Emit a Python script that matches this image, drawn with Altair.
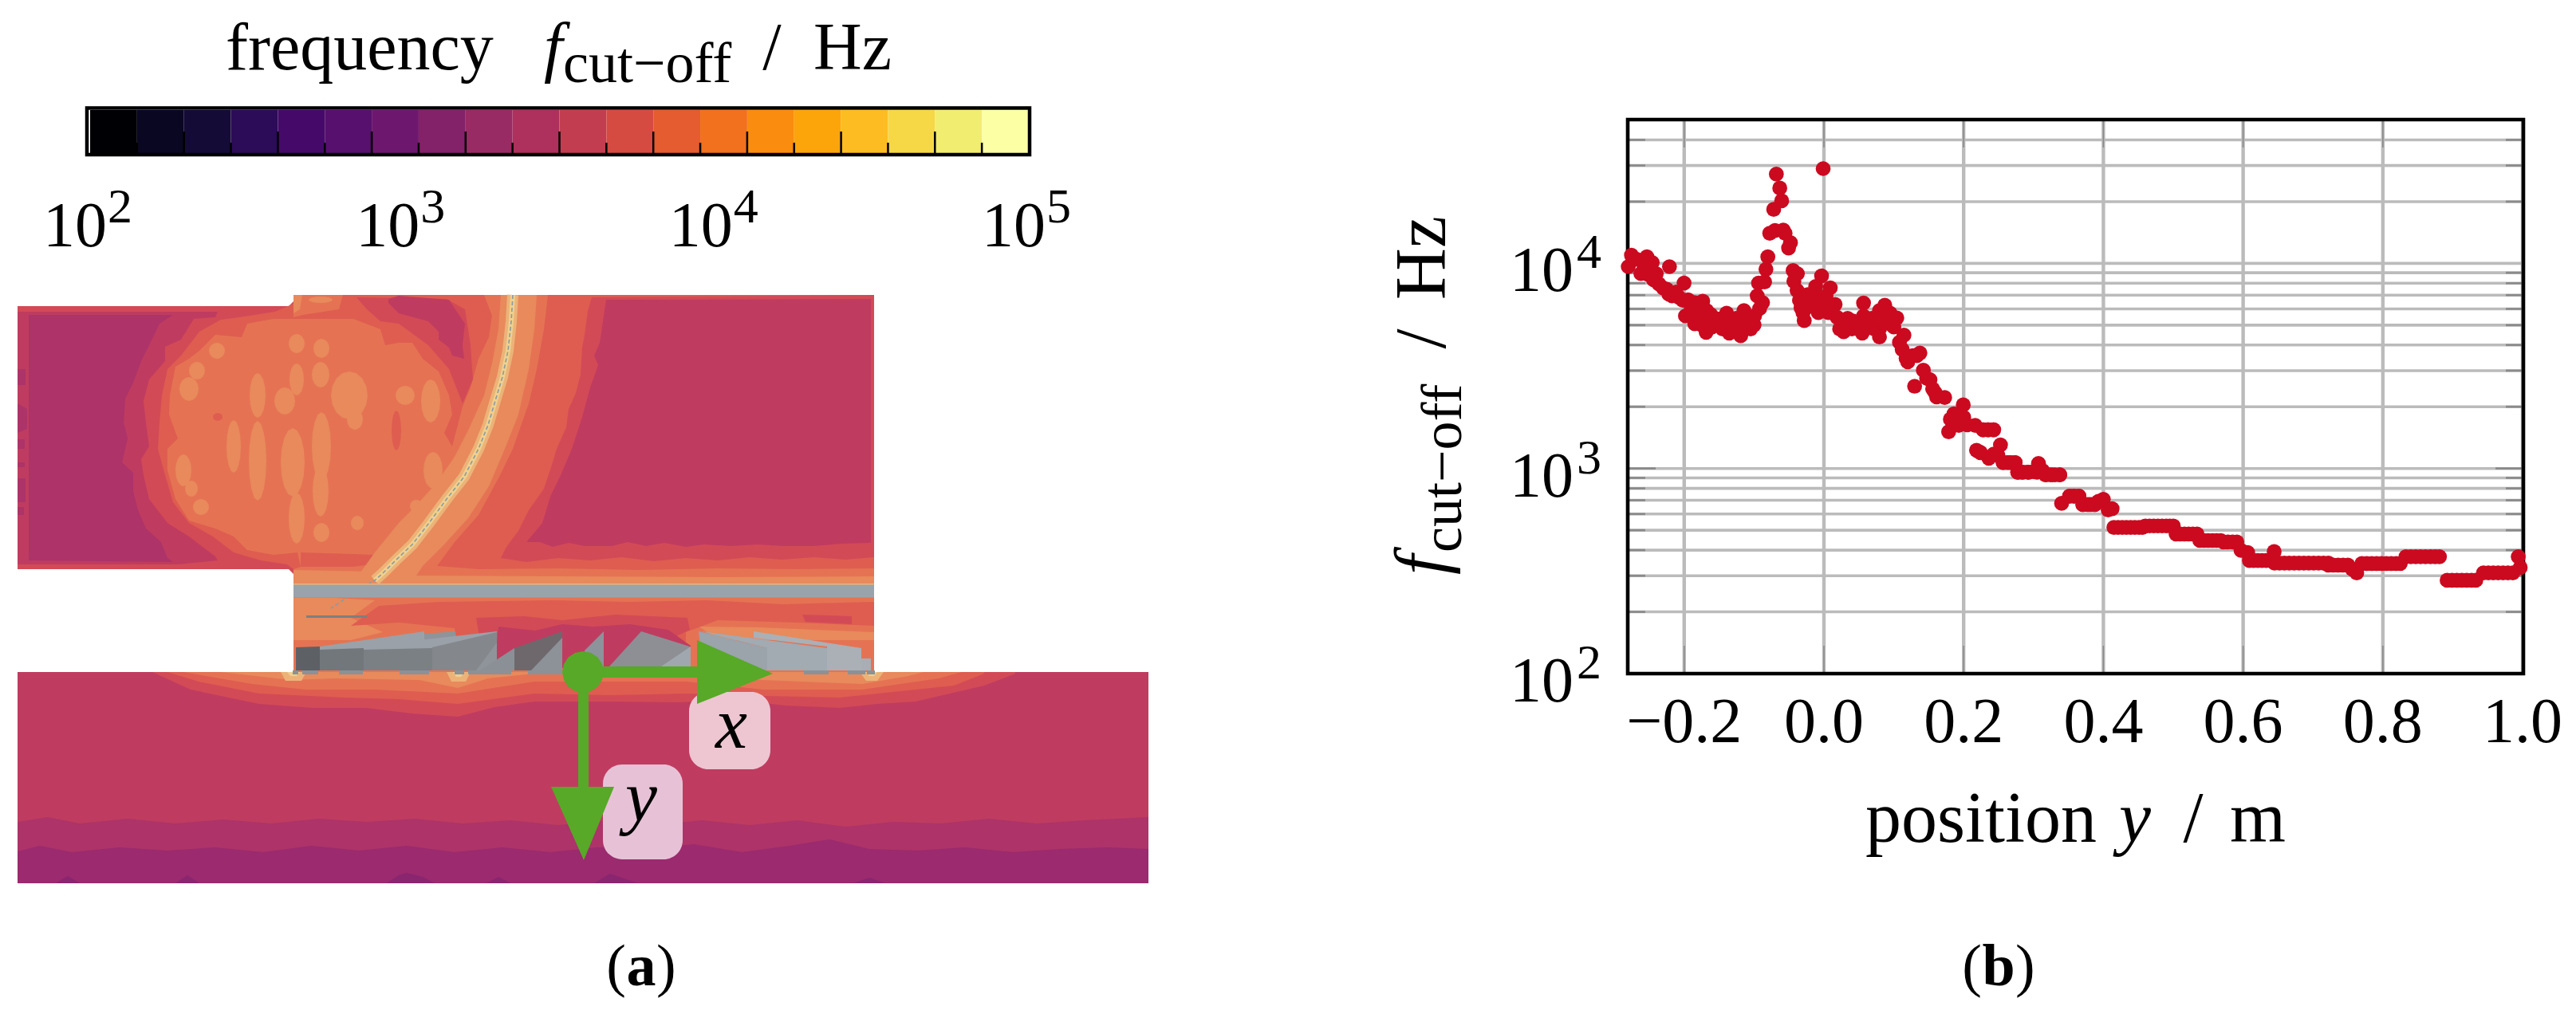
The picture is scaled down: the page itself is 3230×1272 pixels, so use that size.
import math
import altair as alt
import pandas as pd

FONT = "Liberation Serif"

# ---------- panel (b): cut-off frequency along y (position in m, log10 of Hz) ----------
scatter_left = [(-0.280,3.984),(-0.2755,4.040),(-0.2680,4.020),(-0.2534,4.032),(-0.2458,4.004),(-0.2572,3.978),(-0.2515,3.946),
 (-0.2439,3.920),(-0.2211,3.984),(-0.2363,3.900),(-0.2249,3.874),(-0.2002,3.904),(-0.2173,3.842),(-0.2078,3.835),
 (-0.1944,3.822),(-0.1849,3.809),(-0.1735,3.816),(-0.1982,3.744),(-0.1830,3.757),(-0.1849,3.706),(-0.1678,3.770),
 (-0.1678,3.732),(-0.1686,3.664),(-0.1564,3.732),(-0.1526,3.706),(-0.1393,3.757),(-0.1355,3.706),(-0.1355,3.660),
 (-0.1260,3.732),(-0.1191,3.647),(-0.1145,3.770),(-0.1069,3.725),(-0.1050,3.680),(-0.0993,3.744),(-0.0879,3.809),
 (-0.0955,3.842),(-0.0936,3.904),(-0.0849,3.910),(-0.0830,3.971),(-0.0803,4.032),(-0.0776,4.147),(-0.0582,4.162),
 (-0.0556,4.147),(-0.0479,4.101),(-0.0506,4.075),(-0.0719,4.263),(-0.0605,4.305),(-0.0632,4.367),(-0.0681,4.435),
 (-0.2620,3.950),(-0.2480,3.970),(-0.2400,3.950),(-0.2300,3.880),(-0.2220,3.850),(-0.2120,3.860),(-0.2020,3.820),(-0.1900,3.780),
 (-0.1780,3.740),(-0.1750,3.700),(-0.1620,3.750),(-0.1600,3.690),(-0.1480,3.730),(-0.1450,3.680),(-0.1300,3.690),(-0.1220,3.690),
 (-0.1120,3.720),(-0.1000,3.700),(-0.0920,3.780),(-0.0700,4.160)]
scatter_mid = [(-0.0441,3.965),(-0.0430,3.913),(-0.0384,3.868),(-0.0327,3.783),(-0.0282,3.721),(-0.0232,3.848),
 (-0.0011,4.462),(-0.0034,3.939),(0.0091,3.881),(-0.0118,3.887),(-0.0137,3.835),(-0.0042,3.803),(0.0110,3.783),
 (-0.0251,3.783),(0.0186,3.738),(0.0225,3.680),(0.0282,3.667),(0.0339,3.732),(0.0415,3.719),(0.0529,3.680),
 (0.0548,3.660),(0.0567,3.807),(0.0567,3.744),(0.0681,3.732),(0.0795,3.680),(0.0795,3.641),(0.0871,3.796),
 (0.0795,3.770),(0.0947,3.757),(0.1043,3.734),(0.0947,3.706),(0.1145,3.650),(0.1081,3.615),(0.1176,3.537),
 (0.1374,3.563),(0.1271,3.550),(0.1423,3.479),(0.1518,3.433),(0.1298,3.401),(0.1556,3.388),(0.1613,3.349),
 (0.1728,3.346),(0.1994,3.310),(0.1861,3.267),(0.1785,3.179),(0.2051,3.213),(0.2165,3.210),(0.2279,3.189),
 (0.2424,3.189),(0.2527,3.115),(0.2184,3.089),(0.2241,3.077),(0.2489,3.064),(0.2565,3.029),(0.2736,3.029),
 (0.2774,2.982),(0.2926,2.982),(0.3071,3.025),(0.3174,2.969),(0.3375,2.969),(0.3270,2.969),
 (-0.0380,3.950),(-0.0350,3.820),(-0.0300,3.760),(-0.0180,3.800),(-0.0080,3.760),(0.0030,3.840),(0.0060,3.760),(0.0160,3.800),
 (0.0280,3.710),(0.0400,3.680),(0.0480,3.700),(0.0630,3.700),(0.0720,3.680),(0.0880,3.720),(0.1000,3.690),(0.1120,3.580),
 (0.1200,3.520),(0.1330,3.550),(0.1470,3.440),(0.1590,3.370),(0.1810,3.240),(0.1850,3.210),(0.2000,3.250),(0.1930,3.210),
 (0.2230,3.080),(0.2360,3.050),(0.2430,3.070),(0.2350,3.189),(0.2650,3.029),(0.2830,2.982),(0.3000,2.985),(0.3130,2.990),(0.3050,2.982)]
scatter_right = [(0.3402,2.830),(0.3516,2.865),(0.3649,2.865),(0.3580,2.865),(0.3706,2.824),(0.3800,2.824),(0.3877,2.824),(0.3930,2.840),(0.3999,2.850),
 (0.4125,2.804),(0.4068,2.798),(0.5970,2.601),(0.6065,2.590),(0.6444,2.595),(0.9966,2.517),(0.9938,2.570),(0.7626,2.491),(0.7560,2.510)]
# plateaus of the curve: level, then the positions read along it
plateau_levels = [2.713, 2.720, 2.681, 2.649, 2.642, 2.551, 2.539, 2.529, 2.537, 2.570, 2.455, 2.491]
plateau_positions = [
 [0.415,0.421,0.427,0.433,0.439,0.445,0.451,0.456],
 [0.460,0.466,0.472,0.478,0.484,0.490,0.495,0.500],
 [0.504,0.510,0.516,0.522,0.528,0.534],
 [0.538,0.544,0.550,0.556,0.562,0.568],
 [0.572,0.578,0.585,0.591],
 [0.609,0.615,0.621,0.627,0.633,0.639],
 [0.645,0.652,0.659,0.666,0.673,0.680,0.687,0.694,0.701,0.708,0.715,0.722],
 [0.722,0.729,0.736,0.743,0.750],
 [0.770,0.777,0.784,0.791,0.798,0.805,0.812,0.819,0.825],
 [0.833,0.840,0.847,0.854,0.861,0.868,0.875,0.881],
 [0.892,0.899,0.906,0.913,0.920,0.927,0.933],
 [0.944,0.951,0.958,0.965,0.972,0.979,0.986],
]
steps_levels = [3.189, 3.029, 2.982, 2.969, 2.865, 2.824]
steps_positions = [[0.228,0.235,0.243],[0.2565,0.2620,0.2680,0.2736],[0.2774,0.2850,0.2926],[0.3174,0.3240,0.3310,0.3375],[0.3516,0.3580,0.3649],[0.3706,0.3770,0.3830,0.3877]]

scatter = scatter_left + scatter_mid + scatter_right
for lv, xs_ in zip(plateau_levels + steps_levels, plateau_positions + steps_positions):
    scatter = scatter + [(x_, lv) for x_ in xs_]

x_ticks = [-0.2, 0.0, 0.2, 0.4, 0.6, 0.8, 1.0]
x_tick_labels = ["−0.2", "0.0", "0.2", "0.4", "0.6", "0.8", "1.0"]
y_majors = [100, 1000, 10000]
y_exponents = ["2", "3", "4"]
y_minors = [200,300,400,500,600,700,800,900,2000,3000,4000,5000,6000,7000,8000,9000,20000,30000,40000]

# ---------- colour bar ----------
cbar_colors = ["#000004","#0a0722","#150b37","#2c0b58","#450a69","#57106e","#6d186e","#832169","#992b64","#ae305c",
               "#c33d50","#d64b41","#e45c30","#f1711f","#fa8c0f","#fca50a","#fcbc22","#f6d746","#f1ed71","#fcffa4"]
cbar_ticks = [100, 1000, 10000, 100000]
cbar_exponents = ["2", "3", "4", "5"]

# ---------- panel (a): filled contour levels, outlines (page pixels) ----------
L0,L1,L2,L3,L4,L5,L6,L7,L8,L9 = ("#8a2570","#9b2a6e","#ad3369","#bf3c60","#d34a57","#de5d50","#e57353","#e88a5c","#ecb378","#f0d08e")

upper_domain = [(22,381),(362,381),(368,375),(368,367),(1096,367),(1096,730),(368,730),(368,717),(362,711),(22,711)]
left_ring = [(22,388),(273,388),(270,395),(243,397),(227,423),(207,432),(207,450),(187,473),(180,500),(183,527),(187,557),
 (177,573),(180,593),(187,623),(210,653),(237,670),(270,695),(273,700),(223,705),(22,705)]
left_block = [(36,392),(217,392),(200,403),(187,430),(177,450),(167,477),(157,497),(155,527),(160,547),(153,577),(167,590),
 (167,613),(173,637),(183,660),(202,677),(210,697),(217,702),(36,700)]
left_spots = [[(22,460),(32,460),(32,480),(22,480)],[(22,503),(34,510),(34,535),(22,540)],[(22,548),(31,548),(31,560),(22,560)],
 [(22,577),(31,577),(31,583),(22,583)],[(22,597),(32,597),(32,627),(22,627)],[(22,633),(30,633),(30,643),(22,643)]]
ring_l5 = [(300,395),(277,398),(250,413),(227,443),(210,460),(203,493),(200,527),(198,560),(207,593),(217,627),(237,653),
 (267,670),(293,690),(327,700),(360,705),(368,711),(368,730),(1096,730),(1096,367),(368,367),(368,378),(345,388)]
right_l4 = [(742,370),(737,387),(733,417),(730,433),(728,467),(722,490),(713,510),(710,533),(698,560),(692,580),(682,610),
 (663,637),(650,663),(635,683),(628,697),(660,702),(700,697),(740,700),(780,696),(820,701),(860,697),(900,700),(940,696),
 (980,699),(1020,696),(1060,699),(1096,696),(1096,367)]
right_l3 = [(760,373),(757,393),(752,427),(745,443),(750,455),(740,483),(730,520),(717,560),(703,593),(690,620),(680,653),
 (660,677),(677,677),(693,683),(713,678),(733,682),(767,682),(787,677),(810,682),(833,678),(860,683),(883,680),(917,682),
 (950,680),(983,682),(1020,682),(1056,679),(1092,678),(1092,372)]
main_l6 = [(310,403),(343,397),(443,397),(477,410),(483,430),(500,427),(517,427),(530,447),(550,463),(563,493),(567,517),
 (557,540),(567,557),(580,507),(590,483),(600,447),(613,420),(617,393),(607,367),(687,367),(682,410),(673,460),(663,503),
 (643,560),(627,593),(600,643),(570,677),(548,707),(600,711),(700,710),(800,712),(900,710),(1000,711),(1096,710),(1096,730),
 (368,730),(368,711),(377,708),(373,690),(343,693),(310,687),(293,670),(270,660),(237,650),(220,623),(210,587),(210,560),
 (223,547),(212,517),(213,493),(220,457),(237,447),(250,437),(270,417),(303,420)]
wedge_l4 = [(447,370),(560,372),(583,385),(590,430),(593,473),(580,503),(563,460),(537,430),(500,403),(477,400),(460,385)]
patch_l3 = [(487,372),(500,368),(563,373),(583,403),(580,430),(582,447),(567,443),(563,433),(550,423),(550,413),(537,400),(500,390),(487,377)]
patch_bottom_l5 = [(377,690),(443,692),(470,693),(465,705),(443,708),(377,708)]
band_l7 = [(628,367),(625,410),(617,453),(607,493),(587,537),(570,570),(547,603),(523,630),(500,653),(470,690),(452,715),(452,722),
 (520,722),(530,707),(557,680),(587,647),(613,607),(633,560),(650,517),(663,460),(670,410),(673,367)]
strip_l7 = [(368,712),(470,714),(520,719),(700,720),(900,721),(1096,720),(1096,730),(368,730)]
top_l6 = [(368,367),(430,367),(425,385),(380,392),(368,395)]
top_l7 = [(368,367),(379,367),(376,385),(368,390)]
# centre x, centre y, half width, half height of the lighter spots in the blob
spots_l7 = [(272,437,10,10),(247,462,10,11),(237,485,12,15),(230,587,10,20),(240,610,8,10),(252,633,10,10),(293,557,9,33),
 (323,493,10,28),(323,575,11,50),(372,473,9,20),(357,500,13,17),(367,577,15,43),(372,647,10,32),(372,428,10,12),(403,434,10,12),
 (402,467,11,16),(403,557,12,43),(402,613,10,32),(403,665,10,12),(438,493,23,30),(445,523,10,13),(448,653,8,9),(508,493,12,12),
 (540,500,12,27),(543,587,12,23),(522,632,8,8),(402,373,15,4)]
spots_l5 = [(497,537,6,25),(273,520,6,5)]

gap_base = [(368,746),(1096,746),(1096,840),(368,840)]
gap_l7a = [(368,747),(420,747),(470,750),(440,772),(480,790),(440,800),(368,800)]
gap_l5 = [(475,757),(551,752),(695,750),(790,752),(886,750),(982,755),(1096,752),(1096,782),(1000,778),(900,775),(860,790),(860,835),
 (580,835),(570,785),(500,778),(440,782)]
gap_l4 = [(597,772),(657,770),(705,775),(771,768),(862,772),(865,787),(838,800),(838,835),(600,835),(600,790)]
gap_l3 = [(625,783),(671,788),(705,780),(743,783),(790,780),(838,787),(866,807),(866,835),(620,835)]
gap_l4b = [(1006,768),(1068,770),(1068,780),(1010,777)]
gap_l7b = [(877,783),(950,784),(1096,790),(1096,800),(900,800)]

lower_domain = [(22,840),(1440,840),(1440,1105),(22,1105)]
lower_l4 = [(191,840),(239,862),(325,880),(392,885),(459,885),(516,892),(574,896),(620,884),(670,877),(766,877),(850,878),(919,875),
 (985,882),(1053,885),(1100,880),(1148,877),(1234,857),(1273,842),(1273,840)]
lower_l5 = [(210,840),(249,852),(325,867),(431,872),(500,874),(574,880),(670,867),(770,869),(861,867),(960,870),(1053,872),(1196,857),(1234,842),(1234,840)]
lower_l6 = [(230,840),(316,855),(383,862),(470,862),(574,867),(670,852),(861,852),(957,862),(1081,862),(1177,848),(1206,840)]
lower_l7 = [(277,840),(364,850),(421,848),(526,850),(574,860),(612,848),(670,842),(842,842),(957,850),(1081,855),(1139,845),(1158,840)]
hot_l8 = [[(352,840),(384,840),(378,851),(358,851)],[(560,840),(590,840),(584,852),(566,852)],[(1078,840),(1108,840),(1100,851),(1086,851)]]
hot_l9 = [[(360,840),(376,840),(372,845),(364,845)],[(568,840),(582,840),(578,846),(572,846)],[(1086,840),(1100,840),(1096,845),(1090,845)]]
band_l2_top = [(22,1028),(60,1022),(100,1030),(160,1024),(220,1030),(280,1025),(340,1030),(400,1024),(460,1028),(520,1024),(580,1030),
 (640,1026),(700,1032),(760,1026),(820,1032),(880,1026),(940,1032),(1000,1026),(1060,1034),(1120,1028),(1180,1030),(1240,1024),(1300,1030),(1360,1026),(1440,1022)]
band_l1_top = [(22,1065),(50,1058),(90,1066),(150,1060),(210,1064),(270,1060),(330,1066),(390,1058),(450,1064),(510,1058),(570,1066),
 (630,1060),(690,1066),(750,1060),(810,1062),(870,1056),(930,1066),(990,1058),(1040,1050),(1090,1062),(1150,1064),(1210,1060),(1270,1066),(1330,1062),(1390,1060),(1440,1062)]
dark_patches = [[(70,1105),(85,1096),(100,1105)],[(220,1105),(235,1095),(250,1105)],[(485,1105),(500,1095),(510,1092),(530,1097),(545,1105)],
 [(610,1105),(625,1097),(640,1105)],[(745,1105),(765,1093),(785,1100),(800,1105)],[(1070,1105),(1090,1098),(1110,1105)]]

gray_band = [(368,730),(1096,730),(1096,746.5),(368,746.5)]
band_edge = [(368,729),(1096,729),(1096,730.5),(368,730.5)]
flat_bar = [(384,769),(460,769),(460,772),(384,772)]
machine = [
 ("#5d6166",[(371,809),(401,808),(401,838),(371,838)]),
 ("#72777b",[(401,808),(456,808),(456,838),(401,838)]),
 ("#9aa1a8",[(401,808),(532,789),(532,802),(456,810),(401,812)]),
 ("#8e9499",[(532,792),(571,789),(571,797),(532,802)]),
 ("#7b8085",[(456,808),(542,810),(542,838),(456,838)]),
 ("#9aa1a8",[(456,808),(623,789),(623,797),(542,810),(456,812)]),
 ("#84888c",[(542,809),(623,790),(623,838),(542,838)]),
 ("#8e949a",[(597,838),(623,803),(623,838)]),
 ("#8a9096",[(602,838),(645,810),(645,838)]),
 ("#6e686c",[(645,810),(705,789),(705,838),(645,838)]),
 ("#8d9299",[(666,838),(705,797),(705,838)]),
 ("#8c939a",[(733,813),(757,789),(757,838),(733,838)]),
 ("#aab0b6",[(945,789),(1080,810),(1080,838),(1037,838),(1037,808),(945,797)]),
 ("#a2aab2",[(879,789),(1037,810),(1037,838),(962,838),(962,810)]),
 ("#9ba3ab",[(876,789),(962,810),(962,838),(882,838)]),
 ("#8d8f94",[(764,833),(804,789),(865,808),(865,833)]),
 ("#a0a7ae",[(829,833),(866,808),(866,833)]),
 ("#a8aeb3",[(1080,823),(1092,823),(1092,838),(1080,838)]),
]
feet_x = [(367,374),(379,399),(425,455),(501,538),(570,582),(587,641),(662,705),(1008,1039),(1063,1085),(1087,1097)]

arrow_x = [(731,833),(874,833),(874,800),(969,842),(874,880),(874,847),(731,847)]
arrow_y = [(725,840),(738,840),(738,984),(770,984),(732,1076),(691,984),(725,984)]
origin_dot = (731,840,26,26)
badge_x = (864,966,865,962)
badge_y = (756,856,956,1075)

arc = [(643,367),(641,400),(637,437),(630,470),(623,493),(612,530),(600,560),(582,595),(560,623),(538,653),(517,680),(496,700),(480,716),(470,725)]
arc_wire = arc + [(458,732),(436,746),(415,760)]


def poly(color, pts):
    pts = [list(p) for p in pts]
    return {"type": "Feature", "properties": {"c": color},
            "geometry": {"type": "Polygon", "coordinates": [pts + [pts[0]]]}}


def blob(color, s):
    cx, cy, rx, ry = s
    pts = [(cx + rx * math.cos(k * math.pi / 8), cy + ry * math.sin(k * math.pi / 8)) for k in range(16)]
    return poly(color, pts)


def top_band(color, top):
    return poly(color, top + [(1440, 1105), (22, 1105)])


field = [poly(L4, upper_domain), poly(L3, left_ring), poly(L2, left_block)]
field += [poly(L2, p) for p in left_spots]
field += [poly(L5, ring_l5), poly(L4, right_l4), poly(L3, right_l3), poly(L6, main_l6), poly(L4, wedge_l4), poly(L3, patch_l3),
          poly(L5, patch_bottom_l5), poly(L6, top_l6), poly(L7, top_l7), poly(L7, strip_l7)]
field += [blob(L7, s) for s in spots_l7] + [blob(L5, s) for s in spots_l5]
field += [poly(L7, band_l7)]
field += [poly(L6, gap_base), poly(L7, gap_l7a), poly(L5, gap_l5), poly(L4, gap_l4), poly(L3, gap_l3), poly(L4, gap_l4b), poly(L7, gap_l7b)]
field += [poly(L3, lower_domain), poly(L4, lower_l4), poly(L5, lower_l5), poly(L6, lower_l6), poly(L7, lower_l7)]
field += [poly(L8, p) for p in hot_l8] + [poly(L9, p) for p in hot_l9]
field += [top_band(L2, band_l2_top), top_band(L1, band_l1_top)]
field += [poly(L0, p) for p in dark_patches]

solid = [poly("#9aa3ab", gray_band), poly(L8, band_edge), poly("#7d7f7e", flat_bar)]
solid += [poly(c, p) for c, p in machine]
solid += [poly("#8b9196", [(a, 838), (b, 838), (b, 843), (a, 843)]) for a, b in feet_x]

greens = [poly("#57a927", arrow_x), poly("#57a927", arrow_y), blob("#57a927", origin_dot)]

PROJ = dict(type="identity", scale=1, translate=[-8, -8])


def shapes(features):
    return (alt.Chart(alt.Data(values=features)).mark_geoshape(stroke=None)
            .encode(fill=alt.Fill("properties.c:N", scale=None)).project(**PROJ))


def line(pts, color, width, dash=None):
    feat = [{"type": "Feature", "properties": {}, "geometry": {"type": "LineString", "coordinates": [list(p) for p in pts]}}]
    kw = {"strokeDash": dash} if dash else {}
    return (alt.Chart(alt.Data(values=feat))
            .mark_geoshape(filled=False, stroke=color, strokeWidth=width, strokeCap="butt", **kw).project(**PROJ))


DUMMY = pd.DataFrame({"a": [0]})


def label(s, x, y, size=90, style="normal", weight="normal", align="left", angle=0):
    return (alt.Chart(DUMMY).mark_text(font=FONT, fontSize=size, fontStyle=style, fontWeight=weight, align=align,
                                       baseline="alphabetic", angle=angle, color="black")
            .encode(x=alt.value(x), y=alt.value(y), text=alt.value(s)))


def page(x, y, s, **kw):   # position given in page pixels, left panel
    return label(s, x - 8, y - 8, **kw)


def badge(b, color):
    return (alt.Chart(DUMMY).mark_rect(color=color, cornerRadius=24)
            .encode(x=alt.value(b[0] - 8), x2=alt.value(b[1] - 8), y=alt.value(b[2] - 8), y2=alt.value(b[3] - 8)))


# colour-bar table
edges = [10 ** (2 + 0.15 * i) for i in range(21)]
cells = pd.DataFrame({"lo": edges[:-1], "hi": edges[1:], "c": cbar_colors})
cx = alt.Scale(type="log", domain=[100, 100000], range=[105, 1282])
cbar = (alt.Chart(cells).mark_rect(stroke=None)
        .encode(x=alt.X("lo:Q", scale=cx, axis=None), x2="hi:Q", y=alt.value(127), y2=alt.value(181), fill=alt.Fill("c:N", scale=None)))
cbar_frame = (alt.Chart(DUMMY).mark_rect(fillOpacity=0, stroke="black", strokeWidth=4.5)
              .encode(x=alt.value(101), x2=alt.value(1283), y=alt.value(124.5), y2=alt.value(183)))
tick_tab = pd.DataFrame({"v": edges[1:-1], "top": [168 if i % 2 else 154 for i in range(1, 20)]})
cbar_ticks_layer = (alt.Chart(tick_tab).mark_rule(color="black", strokeWidth=2.5)
                    .encode(x=alt.X("v:Q", scale=cx, axis=None), y=alt.Y("top:Q", scale=None), y2=alt.value(181)))
lab_tab = pd.DataFrame({"v": cbar_ticks, "t": ["10"] * 4, "e": cbar_exponents})
cbar_tens = (alt.Chart(lab_tab).mark_text(font=FONT, fontSize=80, align="right", baseline="alphabetic", dx=21, color="black")
             .encode(x=alt.X("v:Q", scale=cx, axis=None), y=alt.value(298), text="t:N"))
cbar_exp = (alt.Chart(lab_tab).mark_text(font=FONT, fontSize=62, align="left", baseline="alphabetic", dx=22, color="black")
            .encode(x=alt.X("v:Q", scale=cx, axis=None), y=alt.value(268), text="e:N"))

left = alt.layer(
    shapes(field),
    line(arc, L8, 14), line(arc, L9, 6), line(arc_wire, "#8b9aa0", 1.6, [5, 3]),
    shapes(solid),
    badge(badge_x, "#edc6d2"), badge(badge_y, "#e7c2d6"),
    shapes(greens),
    cbar, cbar_frame, cbar_ticks_layer, cbar_tens, cbar_exp,
    page(283, 84, "frequency", size=84), page(682, 84, "f", size=84, style="italic"), page(706, 100, "cut−off", size=72),
    page(968, 84, "/", size=84, align="center"), page(1020, 84, "Hz", size=84),
    page(917, 935, "x", style="italic", align="center"), page(804, 1027, "y", style="italic", align="center"),
    page(785, 1233, "(", size=74, align="right"), page(804, 1233, "a", size=74, weight="bold", align="center"),
    page(823, 1233, ")", size=74),
).properties(width=2033, height=1260)

# ---------- right panel ----------
XMIN, XMAX = -0.2808, 1.0011
YMIN, YMAX = 100, 50240
W, H = 1123, 695
xs = alt.Scale(domain=[XMIN, XMAX], nice=False, zero=False)
ys = alt.Scale(type="log", domain=[YMIN, YMAX], nice=False)
X = lambda f: alt.X(f, scale=xs, axis=None)
Y = lambda f: alt.Y(f, scale=ys, axis=None)

pts = pd.DataFrame({"pos": [p[0] for p in scatter], "f": [10 ** p[1] for p in scatter]})
frame_tab = pd.DataFrame({"x": [XMIN], "x2": [XMAX], "y": [YMIN], "y2": [YMAX]})

grid_v = (alt.Chart(pd.DataFrame({"v": x_ticks})).mark_rule(color="#bbbbbb", strokeWidth=4.4)
          .encode(x=X("v:Q"), y=alt.value(0), y2=alt.value(H)))
grid_h = (alt.Chart(pd.DataFrame({"v": y_majors + y_minors})).mark_rule(color="#bbbbbb", strokeWidth=3.6)
          .encode(y=Y("v:Q"), x=alt.value(0), x2=alt.value(W)))
frame = (alt.Chart(frame_tab).mark_rect(fillOpacity=0, stroke="black", strokeWidth=4.6, clip=False)
         .encode(x=X("x:Q"), x2="x2:Q", y=Y("y:Q"), y2="y2:Q"))
dots = (alt.Chart(pts).mark_circle(size=350, color="#cb0a20", opacity=1, clip=False)
        .encode(x=X("pos:Q"), y=Y("f:Q")))


def xtick(y0, y1):
    return (alt.Chart(pd.DataFrame({"v": x_ticks[:-1]})).mark_rule(color="#8a8a8a", strokeWidth=1.6)
            .encode(x=X("v:Q"), y=alt.value(y0), y2=alt.value(y1)))


def ytick(vals, x0, x1):
    return (alt.Chart(pd.DataFrame({"v": vals})).mark_rule(color="#8a8a8a", strokeWidth=2.7)
            .encode(y=Y("v:Q"), x=alt.value(x0), x2=alt.value(x1)))


xlab = pd.DataFrame({"v": x_ticks, "t": x_tick_labels})
x_labels = (alt.Chart(xlab).mark_text(font=FONT, fontSize=80, align="center", baseline="alphabetic", color="black")
            .encode(x=X("v:Q"), y=alt.value(928 - 147), text="t:N"))
ylab = pd.DataFrame({"v": y_majors, "t": ["10"] * 3, "e": y_exponents})
y_tens = (alt.Chart(ylab).mark_text(font=FONT, fontSize=80, align="right", baseline="alphabetic", dy=35, color="black")
          .encode(y=Y("v:Q"), x=alt.value(-68), text="t:N"))
y_exp = (alt.Chart(ylab).mark_text(font=FONT, fontSize=62, align="left", baseline="alphabetic", dy=6, color="black")
         .encode(y=Y("v:Q"), x=alt.value(-64), text="e:N"))


def rpage(x, y, s, **kw):
    return label(s, x - 2041, y - 147, **kw)


right = alt.layer(
    grid_v, grid_h,
    xtick(0, 35), xtick(H - 35, H),
    ytick(y_minors, 0, 22), ytick(y_minors, W - 22, W),
    ytick(y_majors[:2], 0, 35), ytick(y_majors[:2], W - 35, W),
    frame, dots, x_labels, y_tens, y_exp,
    rpage(2339, 1053, "position"), rpage(2657, 1053, "y", style="italic"), rpage(2750, 1053, "/", align="center"), rpage(2796, 1053, "m"),
    rpage(1812, 718, "f", style="italic", angle=270), rpage(1832, 690, "cut−off", size=72, angle=270),
    rpage(1812, 422, "/", align="center", angle=270), rpage(1812, 373, "Hz", angle=270),
    rpage(2485, 1233, "(", size=74, align="right"), rpage(2506, 1233, "b", size=74, weight="bold", align="center"), rpage(2527, 1233, ")", size=74),
).properties(width=W, height=H)

spacer = (alt.Chart(DUMMY).mark_point(opacity=0).encode(x=alt.value(0), y=alt.value(0))
          .properties(width=W, height=139))

chart = alt.hconcat(left, alt.vconcat(spacer, right, spacing=0, bounds="flush"), spacing=0, bounds="flush").properties(
    padding=0, background="white"
).configure_view(stroke=None)

chart.save("out.html", embed_options={"renderer": "svg", "actions": False})
